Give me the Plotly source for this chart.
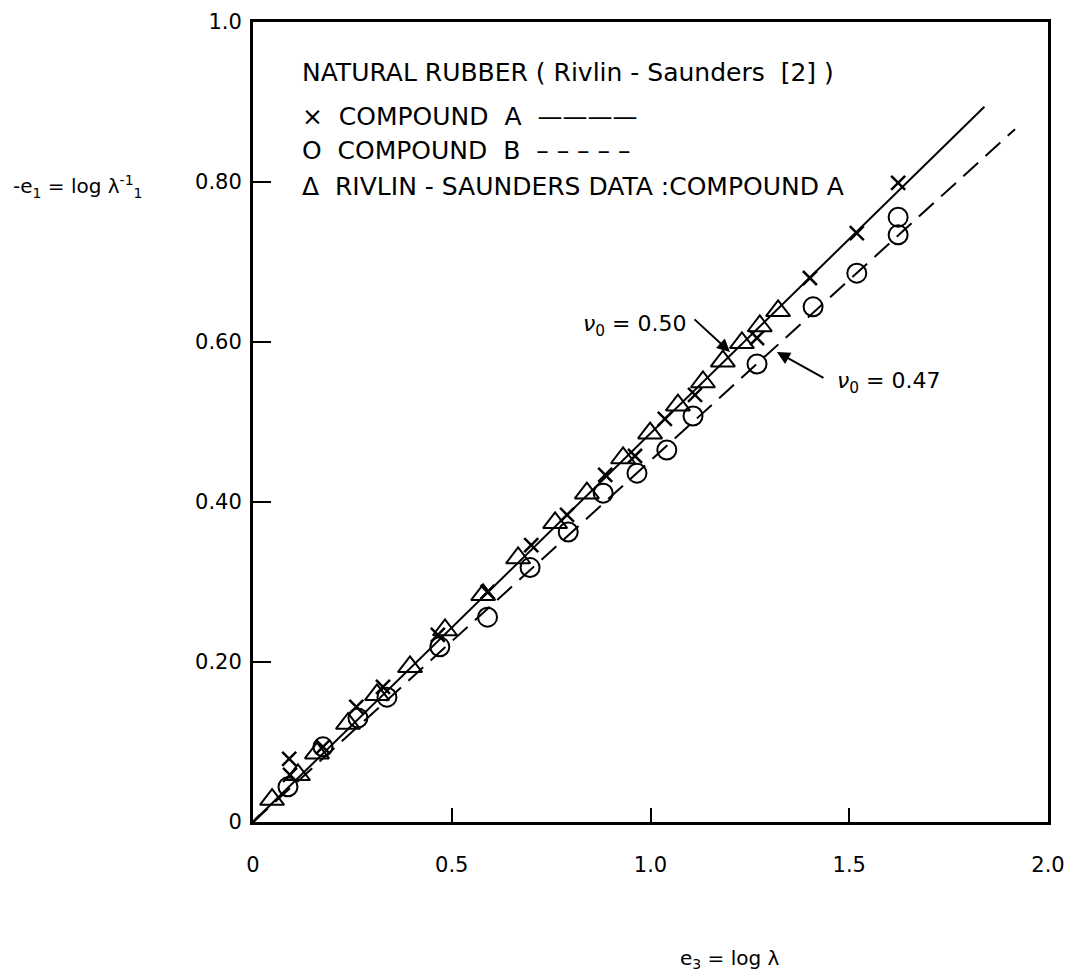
import plotly.graph_objects as go

# Compound A (x markers)
a_x = [0.0, 0.091, 0.093, 0.176, 0.26, 0.327, 0.465, 0.59, 0.70, 0.79, 0.886, 0.961, 1.036, 1.112, 1.268, 1.401, 1.519, 1.623]
a_y = [0.0, 0.079, 0.059, 0.094, 0.144, 0.169, 0.234, 0.2875, 0.346, 0.384, 0.434, 0.4575, 0.504, 0.534, 0.605, 0.68, 0.736, 0.799]

# Compound B (open circles)
b_x = [0.088, 0.176, 0.264, 0.337, 0.47, 0.59, 0.697, 0.793, 0.881, 0.966, 1.041, 1.107, 1.268, 1.409, 1.519, 1.623, 1.623]
b_y = [0.044, 0.094, 0.13, 0.156, 0.219, 0.256, 0.318, 0.3625, 0.411, 0.436, 0.465, 0.5075, 0.5725, 0.644, 0.686, 0.734, 0.756]

# Rivlin-Saunders data, compound A (open triangles)
rs_x = [0.048, 0.113, 0.161, 0.239, 0.312, 0.395, 0.483, 0.579, 0.667, 0.76, 0.84, 0.931, 0.999, 1.069, 1.132, 1.182, 1.23, 1.275, 1.321]
rs_y = [0.028, 0.059, 0.086, 0.123, 0.159, 0.194, 0.24, 0.284, 0.33, 0.374, 0.411, 0.455, 0.486, 0.521, 0.55, 0.576, 0.599, 0.62, 0.639]

# Fitted lines
lineA_x = [0.0, 1.84]
lineA_y = [0.0, 0.894]
lineB_x = [0.0, 1.917]
lineB_y = [0.0, 0.866]

x_ticks = [0, 0.5, 1.0, 1.5, 2.0]
x_tick_text = ["0", "0.5", "1.0", "1.5", "2.0"]
y_ticks = [0, 0.2, 0.4, 0.6, 0.8, 1.0]
y_tick_text = ["0", "0.20", "0.40", "0.60", "0.80", "1.0"]

legend_text = [
    "NATURAL RUBBER ( Rivlin - Saunders  [2] )",
    "×  COMPOUND  A  ————",
    "O  COMPOUND  B  – – – – –",
    "Δ  RIVLIN - SAUNDERS DATA :COMPOUND A",
]

FONT = "DejaVu Sans"
W, H = 1073, 978
L, T, B = 245, 14, 164
R = W - L - 795

fig = go.Figure()
fig.add_trace(go.Scatter(x=lineA_x, y=lineA_y, mode="lines",
                         line=dict(color="black", width=2), showlegend=False))
fig.add_trace(go.Scatter(x=lineB_x, y=lineB_y, mode="lines",
                         line=dict(color="black", width=2, dash="20px,10px"), showlegend=False))
fig.add_trace(go.Scatter(x=rs_x, y=rs_y, mode="markers",
                         marker=dict(symbol="triangle-up-open", size=21, color="black",
                                     line=dict(width=2, color="black")), showlegend=False))
fig.add_trace(go.Scatter(x=b_x, y=b_y, mode="markers",
                         marker=dict(symbol="circle-open", size=19, color="black",
                                     line=dict(width=2, color="black")), showlegend=False))
fig.add_trace(go.Scatter(x=a_x, y=a_y, mode="markers",
                         marker=dict(symbol="x-thin-open", size=14, color="black",
                                     line=dict(width=2.5, color="black")), showlegend=False))

anns = []
legend_y = [0.9375, 0.8825, 0.84, 0.795]
for txt, yy in zip(legend_text, legend_y):
    anns.append(dict(text=txt, x=0.118, y=yy, xref="x", yref="y",
                     xanchor="left", yanchor="middle", showarrow=False,
                     font=dict(family=FONT, size=25, color="black")))

# nu annotations with arrows
anns.append(dict(x=1.2, y=0.5875, ax=1.107, ay=0.63, xref="x", yref="y", axref="x", ayref="y",
                 showarrow=True, arrowhead=2, arrowsize=1.3, arrowwidth=2, arrowcolor="black", text=""))
anns.append(dict(x=1.318, y=0.5875, ax=1.439, ay=0.554, xref="x", yref="y", axref="x", ayref="y",
                 showarrow=True, arrowhead=2, arrowsize=1.3, arrowwidth=2, arrowcolor="black", text=""))
anns.append(dict(x=0.961, y=0.621, xref="x", yref="y", showarrow=False, xanchor="center",
                 text="<i>ν</i><sub>0</sub> = 0.50", font=dict(family=FONT, size=22, color="black")))
anns.append(dict(x=1.60, y=0.549, xref="x", yref="y", showarrow=False, xanchor="center",
                 text="<i>ν</i><sub>0</sub> = 0.47", font=dict(family=FONT, size=22, color="black")))

# axis titles
anns.append(dict(x=-0.22, y=0.815, xref="paper", yref="paper", showarrow=False, xanchor="center",
                 text="-e<sub>1</sub> = log λ<sup>-1</sup><sub>1</sub>",
                 font=dict(family=FONT, size=20, color="black")))
anns.append(dict(x=0.6, y=-0.19, xref="paper", yref="paper", showarrow=False, xanchor="center",
                 text="e<sub>3</sub> = log λ",
                 font=dict(family=FONT, size=20, color="black")))

fig.update_layout(
    width=W, height=H,
    margin=dict(l=L, r=R, t=T, b=B),
    paper_bgcolor="white", plot_bgcolor="white",
    annotations=anns,
    showlegend=False,
)
fig.update_xaxes(range=[0, 2], tickvals=x_ticks, ticktext=x_tick_text, automargin=False,
                 showgrid=False, zeroline=False, showline=True, mirror=True,
                 linecolor="black", linewidth=3, ticks="inside", ticklen=14, tickwidth=2,
                 tickcolor="black", ticklabelstandoff=22,
                 tickfont=dict(family=FONT, size=21, color="black"))
fig.update_yaxes(range=[0, 1], tickvals=y_ticks, ticktext=y_tick_text, automargin=False,
                 showgrid=False, zeroline=False, showline=True, mirror=True,
                 linecolor="black", linewidth=3, ticks="inside", ticklen=18, tickwidth=2,
                 tickcolor="black", ticklabelstandoff=4,
                 tickfont=dict(family=FONT, size=21, color="black"))

fig.write_html("out.html")
